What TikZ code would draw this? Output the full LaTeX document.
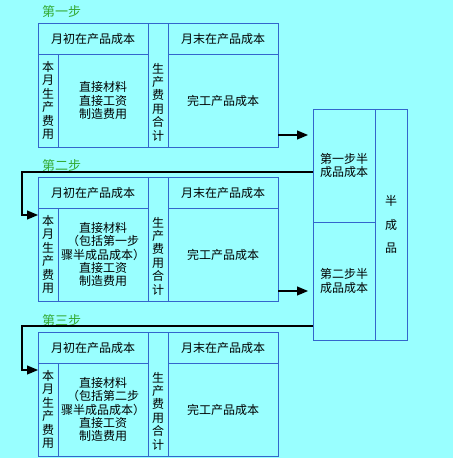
\documentclass[tikz,border=0pt]{standalone}
\usepackage{fontspec}
\newfontfamily\cjk{Noto Sans CJK SC}
\usetikzlibrary{arrows.meta,calc}

\definecolor{bg}{RGB}{153,255,255}
\definecolor{frame}{RGB}{51,102,204}
\definecolor{stepgreen}{RGB}{51,170,51}

\tikzset{
  cell/.style={draw=frame, line width=1pt, anchor=north west, inner sep=0pt,
    outer sep=0pt, align=center, font=\cjk\fontsize{12}{13.4}\selectfont},
  steplabel/.style={anchor=west, inner sep=0pt, text=stepgreen,
    font=\cjk\fontsize{13}{14}\selectfont},
  flow/.style={black, line width=1.2pt, -{Triangle[length=11pt,width=9pt]}},
}

\begin{document}
\begin{tikzpicture}[x=1pt,y=-1pt]
        \fill[bg] (0,0) rectangle (453,458);
        \useasboundingbox (0,0) rectangle (453,458);

        % the three steps
        \foreach \n/\T/\cn/\mid in {1/23/一/{直接材料\\直接工资\\制造费用},
            2/177/二/{直接材料\\（包括第一步\\骤半成品成本）\\直接工资\\制造费用},
            3/332/三/{直接材料\\（包括第二步\\骤半成品成本）\\直接工资\\制造费用}} {
            \node[steplabel] (lab\n) at (42,\T-11) {第\cn 步};
            \node[cell, minimum width=110pt, minimum height=31pt] (hdl\n) at (38,\T) {月初在产品成本};
            \node[cell, minimum width=20pt, minimum height=93pt] (vl\n) at (38,\T+31) {本\\月\\生\\产\\费\\用};
            \node[cell, minimum width=90pt, minimum height=93pt] (mid\n) at (58,\T+31) {\mid};
            \node[cell, minimum width=20pt, minimum height=124pt] (tot\n) at (148,\T) {};
            \node[cell, draw=none, anchor=center] at (158,\T+79) {生\\产\\费\\用\\合\\计};
            \node[cell, minimum width=110pt, minimum height=31pt] (hdr\n) at (168,\T) {月末在产品成本};
            \node[cell, minimum width=110pt, minimum height=93pt] (fin\n) at (168,\T+31) {完工产品成本};
        }

        % semi-finished products
        \node[cell, minimum width=62pt, minimum height=113pt] (semi1) at (313,109) {第一步半\\成品成本};
        \node[cell, minimum width=62pt, minimum height=118pt] (semi2) at (313,222) {第二步半\\成品成本};
        \node[cell, minimum width=32pt, minimum height=231pt] (semi) at (375,109) {半\\[10pt]成\\[10pt]品};

        % arrows
        \draw[flow, shorten >=5pt] (fin1.east |- 0,135) -- (semi1.west |- 0,135);
        \draw[flow, shorten >=5pt] (fin2.east |- 0,291) -- (semi2.west |- 0,291);
        \draw[flow] (semi1.west |- 0,172) -| (22,215) -- (vl2.west |- 0,215);
        \draw[flow] (semi2.west |- 0,326) -| (22,370) -- (vl3.west |- 0,370);
    \end{tikzpicture}
\end{document}
